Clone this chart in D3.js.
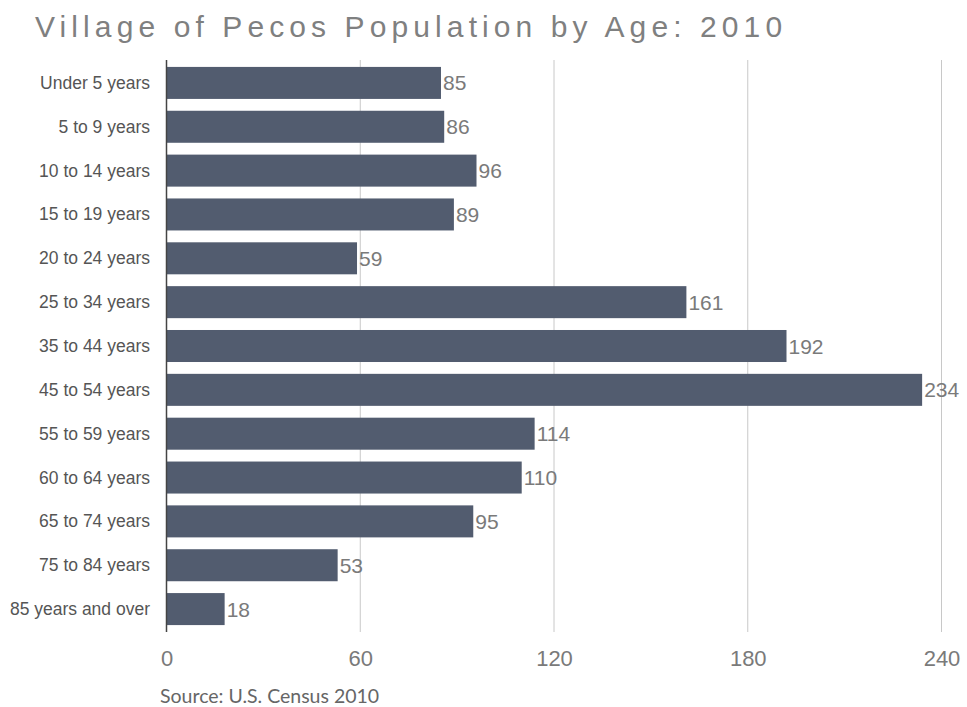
<!DOCTYPE html>
<html><head><meta charset="utf-8">
<script src="https://cdn.jsdelivr.net/npm/d3@7"></script>
<style>body{margin:0;background:#fff}</style>
</head><body>
<svg id="c" width="967" height="707"></svg>
<script>
const categories = ["Under 5 years","5 to 9 years","10 to 14 years","15 to 19 years","20 to 24 years","25 to 34 years","35 to 44 years","45 to 54 years","55 to 59 years","60 to 64 years","65 to 74 years","75 to 84 years","85 years and over"];
const values = [85,86,96,89,59,161,192,234,114,110,95,53,18];
const tickValues = [0,60,120,180,240];
const title = "Village of Pecos Population by Age: 2010";
const source = "Source: U.S. Census 2010";

const svg = d3.select("#c");
const x = d3.scaleLinear().domain([0,240]).range([166.5,941.5]);
const y = d3.scaleBand().domain(categories).range([61,631]).paddingInner(0.27).paddingOuter(0.135);
const FF = "Liberation Sans, Arial, sans-serif";

// gridlines
svg.append("g").selectAll("line").data(tickValues.slice(1)).join("line")
  .attr("x1",d=>x(d)).attr("x2",d=>x(d)).attr("y1",60).attr("y2",632)
  .attr("stroke","#c8c8c8").attr("stroke-width",1);

// bars
svg.append("g").selectAll("rect").data(values).join("rect")
  .attr("x",x(0)).attr("y",(d,i)=>y(categories[i]))
  .attr("width",d=>x(d)-x(0)).attr("height",y.bandwidth())
  .attr("fill","#525c6f");

// axis line
svg.append("line").attr("x1",166.5).attr("x2",166.5).attr("y1",60).attr("y2",632)
  .attr("stroke","#444").attr("stroke-width",1.5);

// value labels
svg.append("g").selectAll("text").data(values).join("text")
  .attr("x",d=>x(d)+2).attr("y",(d,i)=>y(categories[i])+y.bandwidth()/2+7.5)
  .attr("font-family",FF).attr("font-size",21)
  .attr("fill","#7a7a7a").text(d=>d);

// category labels
svg.append("g").selectAll("text").data(categories).join("text")
  .attr("x",150).attr("y",d=>y(d)+y.bandwidth()/2+6)
  .attr("text-anchor","end")
  .attr("font-family",FF).attr("font-size",17.5)
  .attr("fill","#555").text(d=>d);

// x tick labels
const xAxis = d3.axisBottom(x).tickValues(tickValues).tickSize(0).tickPadding(0);
const gx = svg.append("g").attr("transform","translate(0,649)").call(xAxis);
gx.select(".domain").remove();
gx.selectAll("text").attr("font-family",FF)
  .attr("font-size",22).attr("fill","#7a7a7a").attr("dy","0.75em");

// title
svg.append("text").attr("x",35).attr("y",37)
  .attr("font-family",FF).attr("font-size",30)
  .attr("letter-spacing","5.1px").attr("fill","#7f8080").text(title);

// source
svg.append("text").attr("x",160).attr("y",703)
  .attr("font-family","Lato, sans-serif").attr("font-size",19.5)
  .attr("fill","#666").text(source);
</script>
</body></html>
